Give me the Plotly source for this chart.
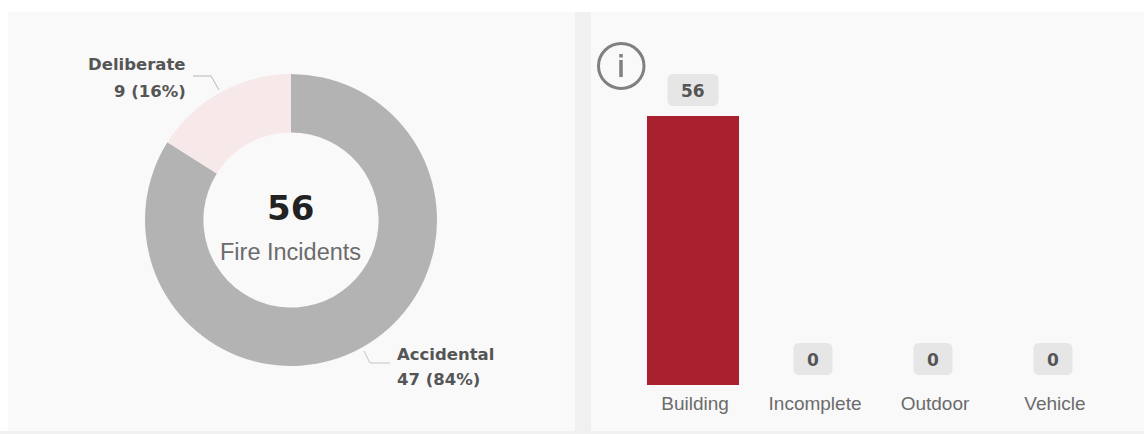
import plotly.graph_objects as go

W, H = 1144, 434

pie_labels = ["Accidental", "Deliberate"]
pie_values = [47, 9]
pie_pcts = ["84%", "16%"]
pie_colors = ["#b3b3b3", "#f7e9ea"]
center_total = "56"
center_caption = "Fire Incidents"

bar_categories = ["Building", "Incomplete", "Outdoor", "Vehicle"]
bar_values = [56, 0, 0, 0]
BAR_COLOR = "#a9202e"
Y_MAX = 66

BOLD = "DejaVu Sans"
SANS = "Liberation Sans"
PANEL = "#f9f9f9"
GUTTER = "#f0f0f0"


def px(x):
    return x / W


def py(y):
    return 1 - y / H


fig = go.Figure()
fig.add_trace(go.Pie(
    labels=pie_labels, values=pie_values, hole=0.6, sort=False,
    direction="clockwise", rotation=0, textinfo="none", showlegend=False,
    hoverinfo="label+value+percent",
    marker=dict(colors=pie_colors, line=dict(width=0)),
    domain=dict(x=[px(145), px(437)], y=[py(366), py(74)]),
))
fig.add_trace(go.Bar(
    x=bar_categories, y=bar_values, marker=dict(color=BAR_COLOR, line=dict(width=0)),
    width=0.767, showlegend=False, xaxis="x", yaxis="y",
))

shapes = [
    dict(type="rect", xref="paper", yref="paper", x0=0, x1=1, y0=py(434), y1=py(431),
         fillcolor=GUTTER, line_width=0, layer="below"),
    dict(type="rect", xref="paper", yref="paper", x0=px(8), x1=px(575), y0=py(431), y1=py(12),
         fillcolor=PANEL, line_width=0, layer="below"),
    dict(type="rect", xref="paper", yref="paper", x0=px(575), x1=px(591), y0=py(431), y1=py(12),
         fillcolor=GUTTER, line_width=0, layer="below"),
    dict(type="rect", xref="paper", yref="paper", x0=px(591), x1=1, y0=py(431), y1=py(12),
         fillcolor=PANEL, line_width=0, layer="below"),
    # pie leader lines
    dict(type="path", xref="paper", yref="paper",
         path=f"M {px(193)} {py(76)} L {px(211)} {py(76)} L {px(219)} {py(90)}",
         line=dict(color="#b5b5b5", width=1)),
    dict(type="path", xref="paper", yref="paper",
         path=f"M {px(364)} {py(351)} L {px(370)} {py(363)} L {px(390)} {py(363)}",
         line=dict(color="#c4c4c4", width=1)),
    # info icon
    dict(type="circle", xref="paper", yref="paper", x0=px(598.5), x1=px(644), y0=py(88.5), y1=py(43.5),
         line=dict(color="#808080", width=3), fillcolor="rgba(0,0,0,0)"),
    dict(type="line", xref="paper", yref="paper", x0=px(621), x1=px(621), y0=py(60), y1=py(77),
         line=dict(color="#808080", width=3.5)),
    dict(type="line", xref="paper", yref="paper", x0=px(621), x1=px(621), y0=py(54), y1=py(57.5),
         line=dict(color="#808080", width=3.5)),
]


def note(text, x, y, font, xanchor="center", **kw):
    return dict(text=text, x=px(x), y=py(y), xref="paper", yref="paper", showarrow=False,
                xanchor=xanchor, yanchor="middle", font=font, **kw)


label_font = dict(family=BOLD, size=16.5, color="#555555")
annotations = [
    note(f"<b>{pie_labels[1]}</b>", 188, 65, label_font, "right"),
    note(f"<b>{pie_values[1]} ({pie_pcts[1]})</b>", 188, 92, label_font, "right"),
    note(f"<b>{pie_labels[0]}</b>", 395, 354, label_font, "left"),
    note(f"<b>{pie_values[0]} ({pie_pcts[0]})</b>", 395, 379, label_font, "left"),
    note(f"<b>{center_total}</b>", 290, 208, dict(family=BOLD, size=34, color="#222222")),
    note(center_caption, 290, 252, dict(family=SANS, size=23.5, color="#6b6b6b")),
]

for cat, val in zip(bar_categories, bar_values):
    label = str(val)
    half = (27 + 12 * len(label)) / 2
    r = 6
    path = (f"M {-half + r} 10 L {half - r} 10 Q {half} 10 {half} {10 + r} "
            f"L {half} {42 - r} Q {half} 42 {half - r} 42 L {-half + r} 42 "
            f"Q {-half} 42 {-half} {42 - r} L {-half} {10 + r} Q {-half} 10 {-half + r} 10 Z")
    shapes.append(dict(type="path", xref="x", yref="y", xsizemode="pixel", ysizemode="pixel",
                       xanchor=cat, yanchor=val, path=path, fillcolor="#e6e6e6", line_width=0))
    annotations.append(dict(text=f"<b>{label}</b>", x=cat, y=val, xref="x", yref="y", yshift=25,
                            showarrow=False, font=dict(family=BOLD, size=17, color="#555555")))

fig.update_layout(
    width=W, height=H, margin=dict(l=0, r=0, t=0, b=0), paper_bgcolor="#ffffff",
    plot_bgcolor="rgba(0,0,0,0)", showlegend=False, shapes=shapes, annotations=annotations,
    bargap=0.233,
    xaxis=dict(domain=[px(633), px(1113)], type="category", categoryorder="array",
               categoryarray=bar_categories, showgrid=False, zeroline=False, showline=False,
               ticks="", ticklabelstandoff=5, ticklabelshift=2,
               tickfont=dict(family=SANS, size=19, color="#6b6b6b")),
    yaxis=dict(domain=[py(385), py(385 - 269 * Y_MAX / 56)], range=[0, Y_MAX], visible=False, fixedrange=True),
)

fig.write_html("out.html", config={"displayModeBar": False},
               post_script="document.body.style.margin='0';document.documentElement.style.overflow='hidden';")
